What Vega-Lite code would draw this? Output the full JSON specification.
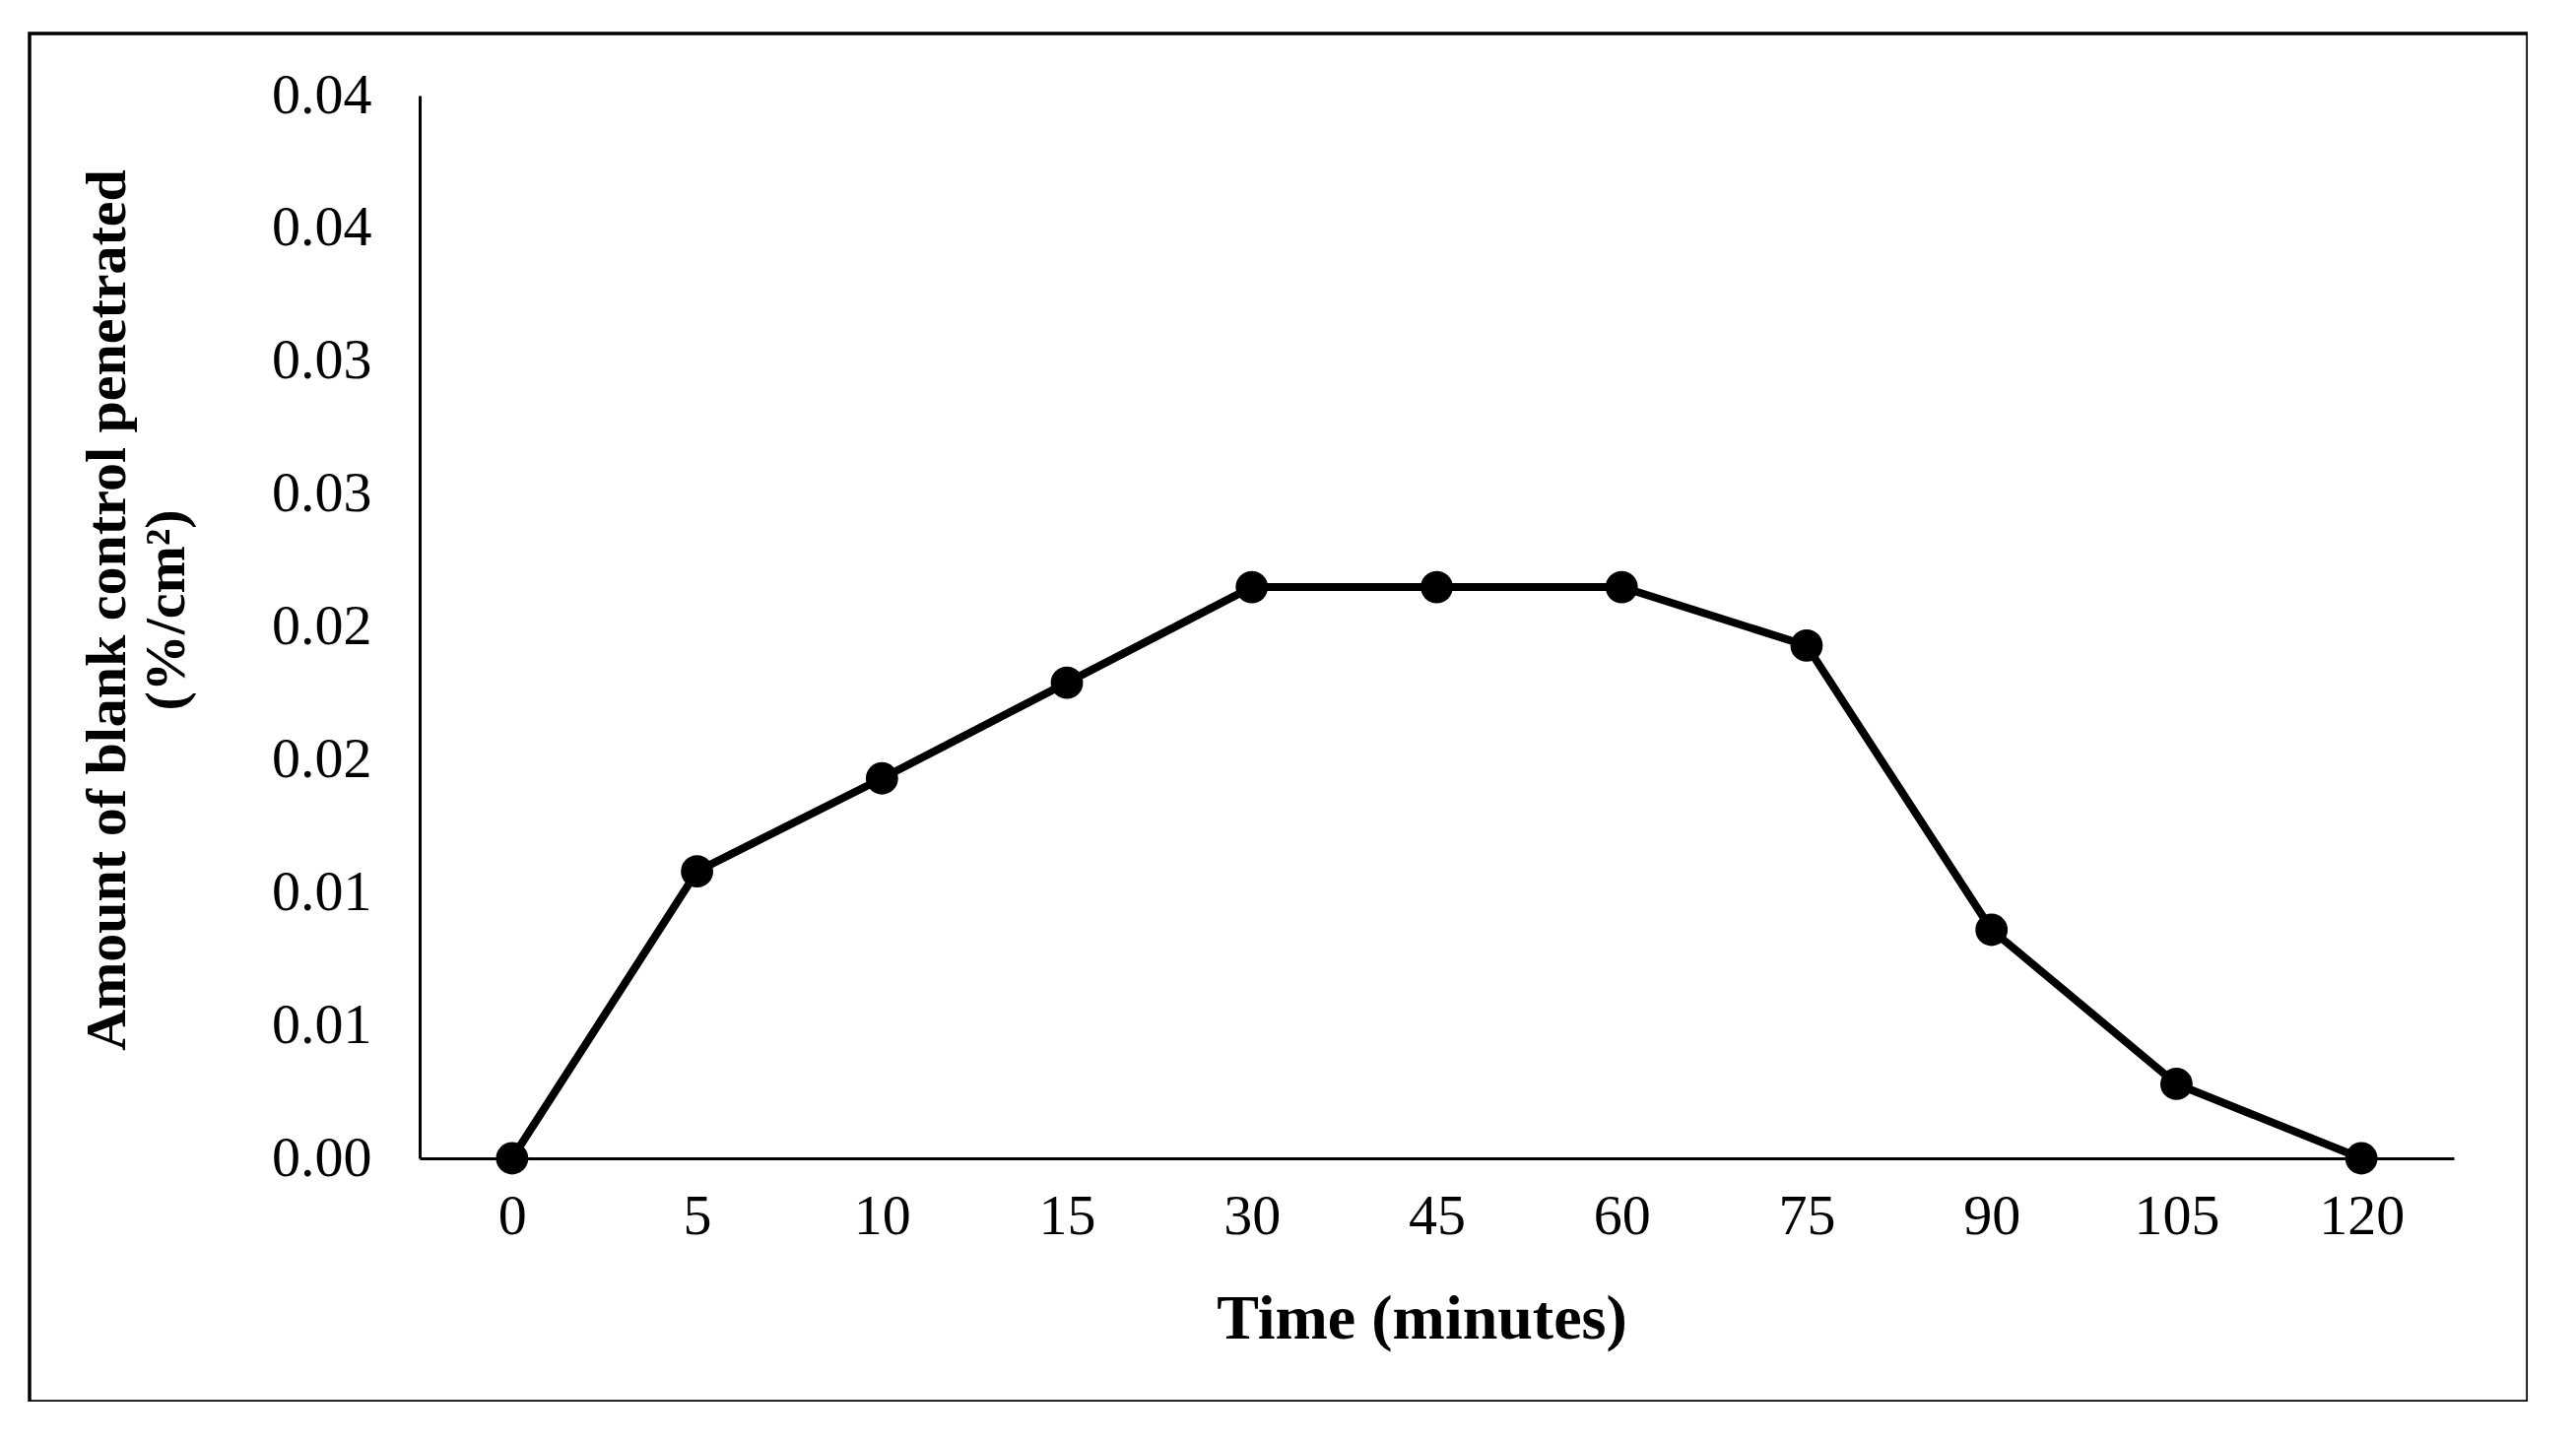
{
  "$schema": "https://vega.github.io/schema/vega-lite/v6.json",
  "width": 2536,
  "height": 1389,
  "autosize": {"type": "none"},
  "padding": {"left": 30, "top": 34, "right": 0, "bottom": 0},
  "background": "white",
  "config": {
    "view": {"stroke": "black", "strokeWidth": 3.5},
    "font": "Liberation Serif"
  },
  "data": {
    "values": [
      {"time": 0, "amount": 0},
      {"time": 5, "amount": 0.0108},
      {"time": 10, "amount": 0.0143},
      {"time": 15, "amount": 0.0179},
      {"time": 30, "amount": 0.0215},
      {"time": 45, "amount": 0.0215},
      {"time": 60, "amount": 0.0215},
      {"time": 75, "amount": 0.0193},
      {"time": 90, "amount": 0.0086},
      {"time": 105, "amount": 0.0028},
      {"time": 120, "amount": 0}
    ]
  },
  "encoding": {
    "x": {
      "field": "time",
      "type": "ordinal",
      "sort": null,
      "scale": {"type": "point", "range": [396, 2461], "padding": 0.5},
      "axis": {
        "orient": "bottom",
        "offset": -247,
        "domainColor": "black",
        "domainWidth": 3,
        "ticks": false,
        "tickSize": 0,
        "grid": false,
        "labelAngle": 0,
        "labelFont": "Liberation Serif",
        "labelFontSize": 58,
        "labelColor": "black",
        "labelPadding": 30,
        "title": "Time (minutes)",
        "titleFont": "Liberation Serif",
        "titleFontSize": 64,
        "titleFontWeight": "bold",
        "titleColor": "black",
        "titleX": 1413,
        "titleY": 163,
        "titleAlign": "center",
        "titleBaseline": "middle"
      }
    },
    "y": {
      "field": "amount",
      "type": "quantitative",
      "scale": {"domain": [0, 0.04], "range": [1142, 63], "nice": false, "zero": true},
      "axis": {
        "orient": "left",
        "offset": -396,
        "domainColor": "black",
        "domainWidth": 3,
        "ticks": false,
        "tickSize": 0,
        "grid": false,
        "values": [0, 0.005, 0.01, 0.015, 0.02, 0.025, 0.03, 0.035, 0.04],
        "labelExpr": "format(round(datum.value * 100 + 0.001) / 100, '.2f')",
        "labelFont": "Liberation Serif",
        "labelFontSize": 58,
        "labelColor": "black",
        "labelPadding": 49,
        "title": ["Amount of blank control penetrated", "(%/cm²)"],
        "titleFont": "Liberation Serif",
        "titleFontSize": 58,
        "titleFontWeight": "bold",
        "titleColor": "black",
        "titleLineHeight": 60,
        "titleAngle": -90,
        "titleX": -317,
        "titleY": 585,
        "titleAlign": "center",
        "titleBaseline": "middle"
      }
    }
  },
  "layer": [
    {"mark": {"type": "line", "color": "black", "strokeWidth": 8}},
    {"mark": {"type": "point", "filled": true, "color": "black", "opacity": 1, "size": 1075}}
  ]
}
